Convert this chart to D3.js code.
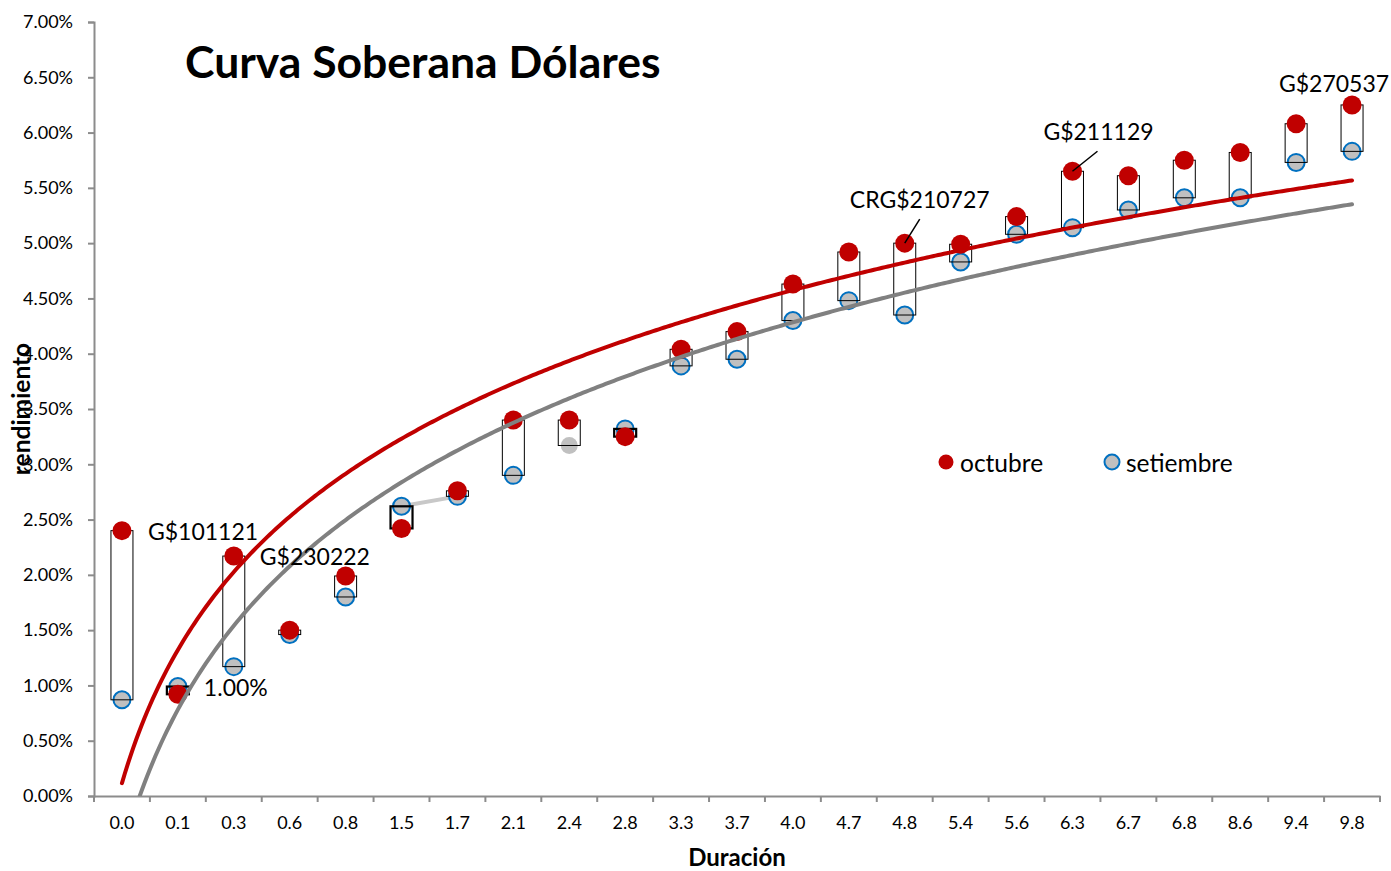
<!DOCTYPE html>
<html>
<head>
<meta charset="utf-8">
<script src="https://cdn.jsdelivr.net/npm/d3@7/dist/d3.min.js"></script>
<style>
  html, body { margin: 0; padding: 0; background: #fff; }
  svg { display: block; font-family: Lato, "Open Sans", sans-serif; }
</style>
</head>
<body>
<svg id="chart" width="1391" height="871"></svg>
<script>
// Duración (años) de cada bono soberano en dólares
const categories = ["0.0","0.1","0.3","0.6","0.8","1.5","1.7","2.1","2.4","2.8","3.3","3.7",
                    "4.0","4.7","4.8","5.4","5.6","6.3","6.7","6.8","8.6","9.4","9.8"];
// Rendimiento (%) en octubre
const octubre = [2.40, 0.92, 2.17, 1.50, 1.99, 2.42, 2.76, 3.40, 3.40, 3.25, 4.04, 4.20,
                 4.63, 4.92, 5.00, 4.99, 5.24, 5.65, 5.61, 5.75, 5.82, 6.08, 6.25];
// Rendimiento (%) en setiembre
const setiembre = [0.87, 0.99, 1.17, 1.46, 1.80, 2.62, 2.71, 2.90, 3.17, 3.32, 3.89, 3.95,
                   4.30, 4.48, 4.35, 4.83, 5.08, 5.14, 5.30, 5.41, 5.41, 5.73, 5.83];
const yTicks = [0, 0.5, 1, 1.5, 2, 2.5, 3, 3.5, 4, 4.5, 5, 5.5, 6, 6.5, 7];
const seriesNames = ["octubre", "setiembre"];
// Etiquetas de bonos: categoría, serie y texto
const bondLabels = [
  { cat: "0.0", series: "octubre",   text: "G$101121" },
  { cat: "0.1", series: "setiembre", text: "1.00%" },
  { cat: "0.3", series: "octubre",   text: "G$230222" },
  { cat: "4.8", series: "octubre",   text: "CRG$210727" },
  { cat: "6.3", series: "octubre",   text: "G$211129" },
  { cat: "9.8", series: "octubre",   text: "G$270537" }
];

const RED = "#C00000", GREY_TREND = "#808080", SET_FILL = "#C0C0C0", SET_STROKE = "#0070C0";

const svg = d3.select("#chart");
const plotLeft = 94, plotRight = 1380, plotTop = 22, plotBottom = 796;

const x = d3.scaleBand().domain(categories).range([plotLeft, plotRight]).padding(0);
const cx = c => x(c) + x.bandwidth() / 2;
const y = d3.scaleLinear().domain([0, 7]).range([plotBottom, plotTop]);

// Escala continua del índice de categoría (1..n) para las líneas de tendencia
const xi = d3.scaleLinear().domain([1, categories.length])
  .range([cx(categories[0]), cx(categories[categories.length - 1])]);

svg.append("defs").append("clipPath").attr("id", "plot")
  .append("rect").attr("x", plotLeft).attr("y", plotTop)
  .attr("width", plotRight - plotLeft).attr("height", plotBottom - plotTop);

// Ejes
const axisColor = "#8C8C8C";
const yAxis = svg.append("g").attr("transform", `translate(${plotLeft},0)`)
  .call(d3.axisLeft(y).tickValues(yTicks).tickSize(6).tickPadding(15)
    .tickFormat(d => d.toFixed(2) + "%"));
yAxis.select(".domain").attr("stroke", axisColor).attr("stroke-width", 2);
yAxis.selectAll(".tick line").attr("stroke", axisColor).attr("stroke-width", 2);
yAxis.selectAll(".tick text").attr("fill", "#000").style("font-size", "18px")
  .style("font-family", "Lato, sans-serif");

const xAxis = svg.append("g").attr("transform", `translate(0,${plotBottom})`)
  .call(d3.axisBottom(x).tickSize(0).tickPadding(20));
xAxis.select(".domain").attr("stroke", axisColor).attr("stroke-width", 2);
xAxis.selectAll(".tick text").attr("fill", "#000").style("font-size", "18px")
  .style("font-family", "Lato, sans-serif");
// Marcas en los límites de cada categoría
xAxis.selectAll(".bound").data(categories.map(c => x(c)).concat([plotRight]))
  .enter().append("line").attr("class", "bound")
  .attr("x1", d => d).attr("x2", d => d).attr("y1", 0).attr("y2", 6)
  .attr("stroke", axisColor).attr("stroke-width", 2);

// Títulos
svg.append("text").attr("x", 185).attr("y", 78)
  .style("font-size", "44.5px").style("font-weight", "bold").text("Curva Soberana Dólares");
svg.append("text").attr("x", 737).attr("y", 866).attr("text-anchor", "middle")
  .style("font-size", "24px").style("font-weight", "bold").text("Duración");
svg.append("text").attr("transform", "translate(30,409) rotate(-90)").attr("text-anchor", "middle")
  .style("font-size", "24.5px").style("font-weight", "bold").text("rendimiento");

const rows = categories.map((c, i) => ({ cat: c, oct: octubre[i], set: setiembre[i] }));

// Enlace de la serie setiembre entre 1.5 y 1.7
const setLink = ["1.5", "1.7"];
svg.append("path")
  .datum(rows.filter(r => setLink.includes(r.cat)))
  .attr("d", d3.line().x(r => cx(r.cat)).y(r => y(r.set)))
  .attr("fill", "none").attr("stroke", "#C8C8C8").attr("stroke-width", 4);

// Marcadores setiembre
const setPlain = ["2.4"];
svg.append("g").selectAll("circle").data(rows).enter().append("circle")
  .attr("cx", r => cx(r.cat)).attr("cy", r => y(r.set)).attr("r", 8.5)
  .attr("fill", SET_FILL)
  .attr("stroke", r => setPlain.includes(r.cat) ? "none" : SET_STROKE)
  .attr("stroke-width", 2);

// Barras de diferencia entre meses
const bw = 22;
svg.append("g").selectAll("rect").data(rows).enter().append("rect")
  .attr("x", r => cx(r.cat) - bw / 2)
  .attr("y", r => y(Math.max(r.oct, r.set)))
  .attr("width", bw)
  .attr("height", r => Math.abs(y(r.oct) - y(r.set)))
  .attr("fill", "none")
  .attr("stroke", "#000")
  .attr("stroke-width", r => r.oct >= r.set ? 1 : 2.2);

// Marcadores octubre
svg.append("g").selectAll("circle").data(rows).enter().append("circle")
  .attr("cx", r => cx(r.cat)).attr("cy", r => y(r.oct)).attr("r", 9.5)
  .attr("fill", RED);

// Líneas de tendencia logarítmicas (mínimos cuadrados sobre ln(índice))
function logFit(vals) {
  const xs = vals.map((_, i) => Math.log(i + 1));
  const mx = d3.mean(xs), my = d3.mean(vals);
  let sxy = 0, sxx = 0;
  xs.forEach((lx, i) => { sxy += (lx - mx) * (vals[i] - my); sxx += (lx - mx) ** 2; });
  const a = sxy / sxx, b = my - a * mx;
  return t => a * Math.log(t) + b;
}
const steps = d3.range(1, categories.length + 0.0001, 0.05);
const trends = [
  { fn: logFit(setiembre), color: GREY_TREND },
  { fn: logFit(octubre), color: RED }
];
const tg = svg.append("g").attr("clip-path", "url(#plot)");
trends.forEach(t => {
  tg.append("path")
    .attr("d", d3.line().x(s => xi(s)).y(s => y(t.fn(s)))(steps))
    .attr("fill", "none").attr("stroke", t.color).attr("stroke-width", 4)
    .attr("stroke-linecap", "round");
});

// Etiquetas de bonos
const labelPlacement = {
  "0.0": { dx: 26, dy: 0, anchor: "start" },
  "0.1": { dx: 26, dy: 0, anchor: "start" },
  "0.3": { dx: 26, dy: 0, anchor: "start" },
  "4.8": { dx: 15, dy: -44, anchor: "middle", leader: [15, -24] },
  "6.3": { dx: 26, dy: -40, anchor: "middle", leader: [25, -20] },
  "9.8": { dx: -18, dy: -22, anchor: "middle" }
};
bondLabels.forEach(l => {
  const i = categories.indexOf(l.cat);
  const v = l.series === "octubre" ? octubre[i] : setiembre[i];
  const px = cx(l.cat), py = y(v);
  const p = labelPlacement[l.cat];
  if (p.leader) {
    svg.append("line").attr("x1", px).attr("y1", py)
      .attr("x2", px + p.leader[0]).attr("y2", py + p.leader[1])
      .attr("stroke", "#000").attr("stroke-width", 1.5);
  }
  svg.append("text").attr("x", px + p.dx).attr("y", py + p.dy)
    .attr("text-anchor", p.anchor).attr("dominant-baseline", "central")
    .style("font-size", "23px").text(l.text);
});

// Leyenda
const legend = svg.append("g");
const legendItems = [
  { name: seriesNames[0], x: 946, fill: RED, stroke: "none" },
  { name: seriesNames[1], x: 1112, fill: SET_FILL, stroke: SET_STROKE }
];
legendItems.forEach(it => {
  legend.append("circle").attr("cx", it.x).attr("cy", 462).attr("r", 7.5)
    .attr("fill", it.fill).attr("stroke", it.stroke).attr("stroke-width", 2);
  legend.append("text").attr("x", it.x + 14).attr("y", 462).attr("dominant-baseline", "central")
    .style("font-size", "24.5px").text(it.name);
});
</script>
</body>
</html>
